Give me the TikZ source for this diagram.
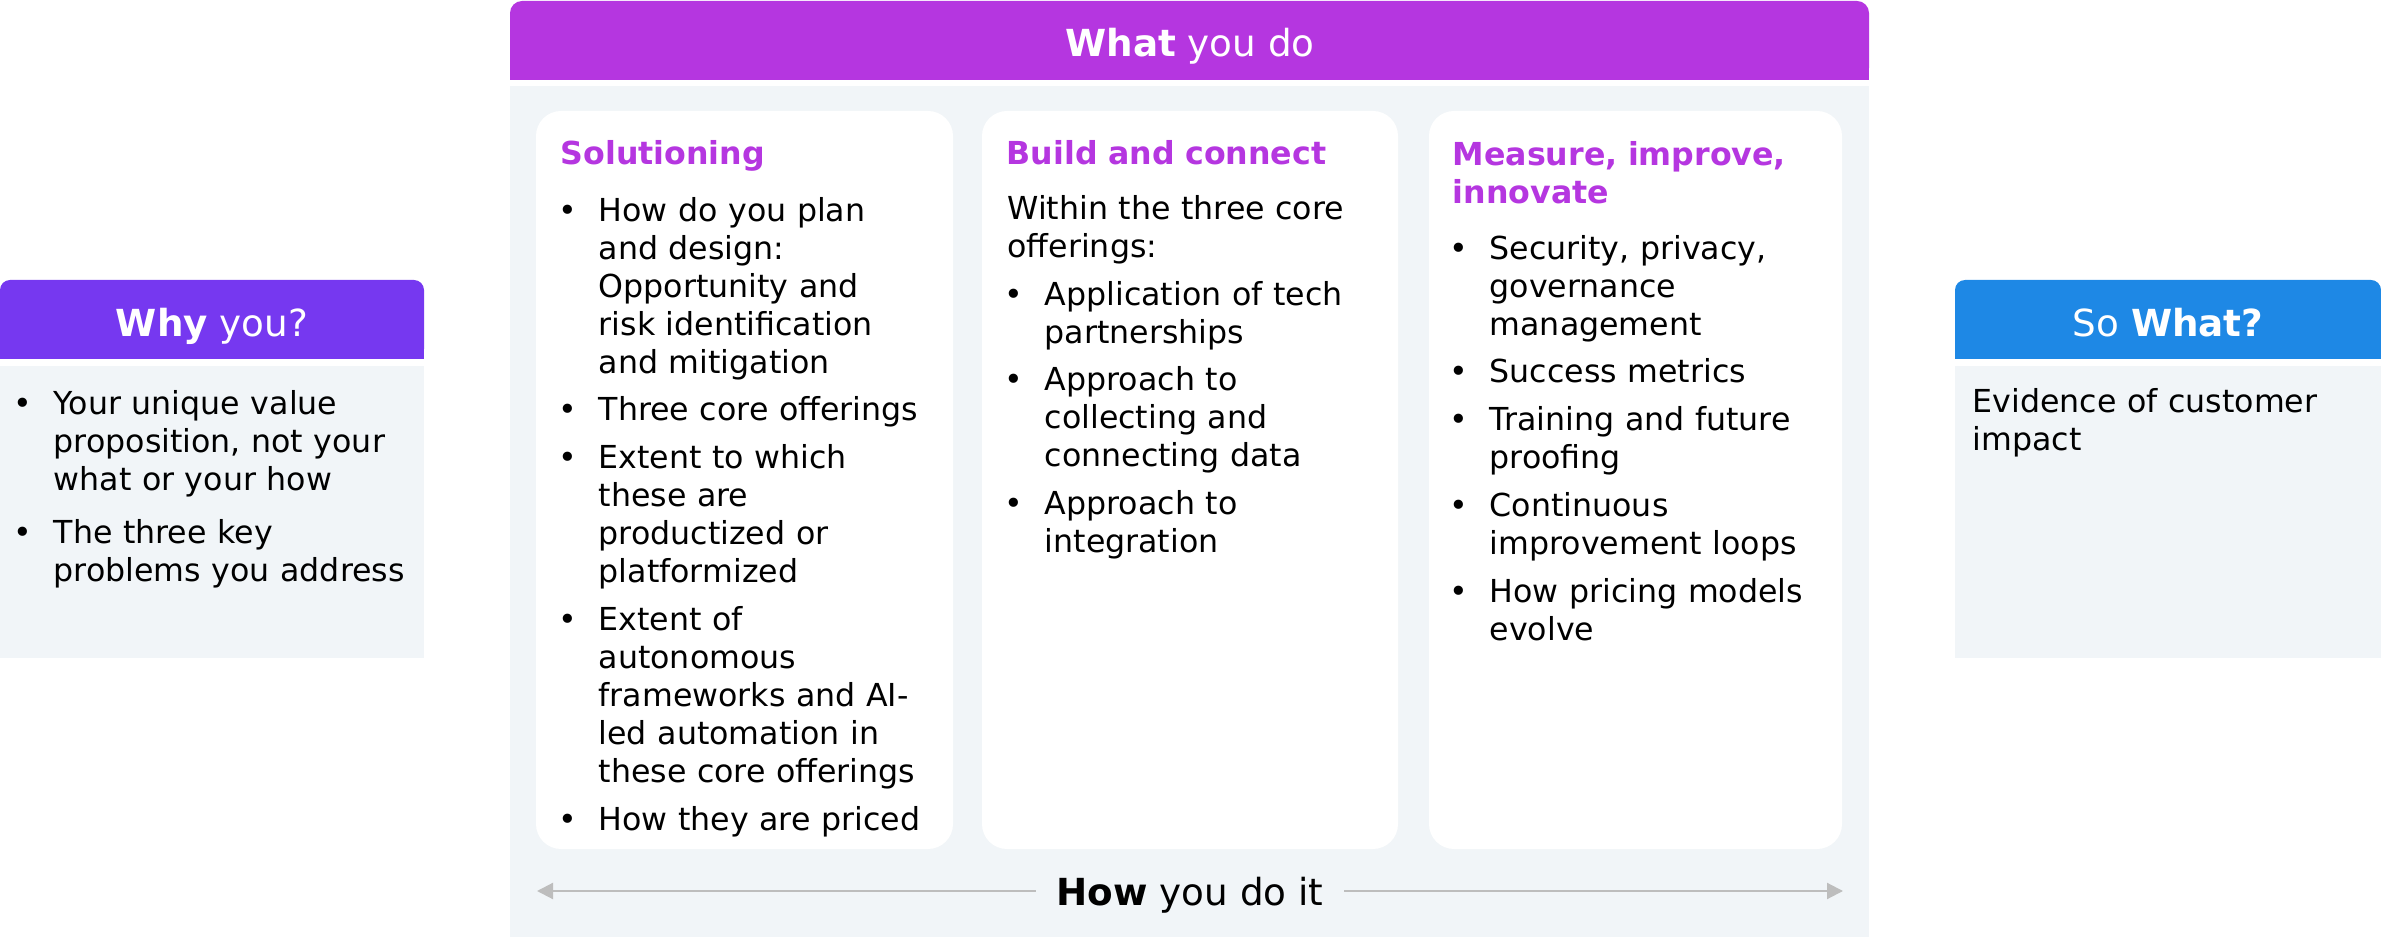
\documentclass[tikz,border=0pt]{standalone}
\usepackage{fontspec}
\setmainfont{DejaVu Sans}
\usepackage{enumitem}
\usetikzlibrary{positioning}
\usetikzlibrary{arrows.meta}

\definecolor{whyviolet}{RGB}{118,56,240}
\definecolor{whatpurple}{RGB}{181,54,224}
\definecolor{sowhatblue}{RGB}{30,136,229}
\definecolor{panelgray}{RGB}{241,245,248}
\definecolor{howgray}{RGB}{189,189,189}

\setlist[itemize]{label=\textbullet, leftmargin=0.4cm, labelwidth=0.4cm, labelsep=0pt, align=left,
  topsep=2.6pt, partopsep=0pt, parsep=0pt, itemsep=2.8pt}

\begin{document}
\begin{tikzpicture}
    [
    x=0.01cm, y=-0.01cm,
    headtext/.style={text=white,font=\fontsize{10.6}{12.8}\selectfont,anchor=base,inner sep=0pt},
    cardtitle/.style={text=whatpurple,font=\fontsize{9}{10.8}\selectfont\bfseries,anchor=base west,inner sep=0pt,text width=6cm,align=left},
    cardtext/.style={font=\fontsize{9}{10.8}\selectfont,anchor=base west,inner sep=0pt,text width=6cm,align=left},
    card/.style={fill=white,rounded corners=0.25cm},
    howarrow/.style={draw=howgray,line width=0.6pt,-{Triangle[length=0.16cm,width=0.16cm]}},
    ]
    \useasboundingbox (0,0) rectangle (2381,937);

    % panels
    \fill [whyviolet,rounded corners=0.1cm] (0,280) rectangle (424,359);
    \fill [whyviolet] (0,320) rectangle (424,359);
    \fill [panelgray] (0,366) rectangle (424,658);

    \fill [whatpurple,rounded corners=0.12cm] (510,1) rectangle (1869,80);
    \fill [whatpurple] (510,40) rectangle (1869,80);
    \fill [panelgray] (510,86) rectangle (1869,937);

    \fill [sowhatblue,rounded corners=0.1cm] (1955,280) rectangle (2381,359);
    \fill [sowhatblue] (1955,320) rectangle (2381,359);
    \fill [panelgray] (1955,366) rectangle (2381,658);

    \fill [card] (536,111) rectangle (953,849);
    \fill [card] (982,111) rectangle (1398,849);
    \fill [card] (1429,111) rectangle (1842,849);

    % headers
    \node (why) at (212,337) [headtext] {\textbf{Why} you?};
    \node (what) at (1190,57) [headtext] {\textbf{What} you do};
    \node (sowhat) at (2168,337) [headtext] {So \textbf{What?}};

    % side texts (lists hang 47 below their anchor)
    \node (whytext) at (13,367) [cardtext] {%
      \begin{itemize}[itemsep=4.5pt]
        \item Your unique value\\proposition, not your\\what or your how
        \item The three key\\problems you address
      \end{itemize}};
    \node (sowhattext) at (1972,413) [cardtext] {Evidence of customer\\impact};

    % cards
    \node (solu) at (560,165) [cardtitle] {Solutioning};
    \node (solutext) at (558,174) [cardtext] {%
      \begin{itemize}
        \item How do you plan\\and design:\\Opportunity and\\risk identification\\and mitigation
        \item Three core offerings
        \item Extent to which\\these are\\productized or\\platformized
        \item Extent of\\autonomous\\frameworks and AI-\\led automation in\\these core offerings
        \item How they are priced
      \end{itemize}};

    \node (build) at (1006,165) [cardtitle] {Build and connect};
    \node (buildtext) at (1004,220) [cardtext] {%
      \hspace*{2\pgflinewidth}Within the three core\\\hspace*{2\pgflinewidth}offerings:
      \begin{itemize}
        \item Application of tech\\partnerships
        \item Approach to\\collecting and\\connecting data
        \item Approach to\\integration
      \end{itemize}};

    \node (measure) at (1452,166) [cardtitle] {Measure, improve,\\innovate};
    \node (measuretext) at (1449,212) [cardtext] {%
      \begin{itemize}
        \item Security, privacy,\\governance\\management
        \item Success metrics
        \item Training and future\\proofing
        \item Continuous\\improvement loops
        \item How pricing models\\evolve
      \end{itemize}};

    % how you do it
    \node (how) at (1190,905) [headtext,text=black,inner xsep=0.2cm] {\textbf{How} you do it};
    \coordinate (howl) at (537,891);
    \coordinate (howr) at (1843,891);
    \draw [howarrow] (how.west |- howl) to (howl);
    \draw [howarrow] (how.east |- howr) to (howr);
\end{tikzpicture}
\end{document}
